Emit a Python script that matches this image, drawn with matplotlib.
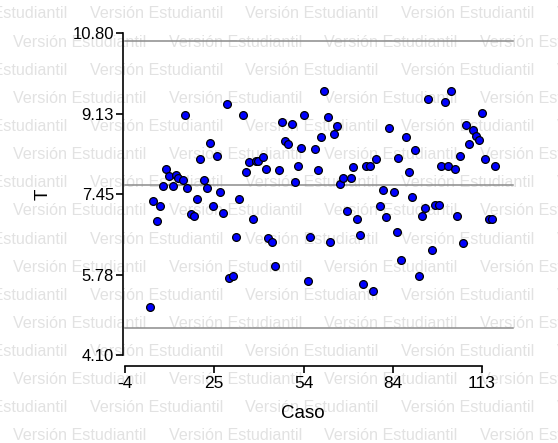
import matplotlib
matplotlib.use("Agg")
import matplotlib.pyplot as plt

# ---- data ----
caso = [4.1, 5.1, 6.4, 7.4, 8.5, 9.5, 10.4, 11.7, 12.6, 13.5,
        14.9, 15.8, 16.4, 17.5, 18.6, 19.7, 20.7, 21.8, 22.9, 23.9,
        24.9, 26.1, 27.0, 28.2, 29.3, 30.2, 31.5, 32.4, 33.4, 34.7,
        35.7, 36.6, 37.9, 38.9, 39.7, 41.1, 42.1, 43.0, 44.3, 45.3,
        46.4, 47.4, 48.4, 49.5, 50.6, 51.6, 52.7, 53.8, 54.8, 56.0,
        56.6, 58.3, 59.2, 60.2, 61.3, 62.4, 63.3, 64.6, 65.6, 66.5,
        67.5, 68.7, 70.0, 70.8, 71.9, 73.1, 74.1, 74.9, 76.3, 77.4,
        78.3, 79.6, 80.5, 81.5, 82.6, 84.0, 85.0, 85.6, 86.6, 88.0,
        89.0, 90.2, 91.1, 92.2, 93.4, 94.4, 95.4, 96.6, 97.6, 98.8,
        99.7, 100.8, 101.9, 102.9, 104.1, 104.9, 105.7, 106.7, 107.7, 108.8,
        110.0, 110.9, 112.1, 113.1, 114.1, 115.2, 116.3, 117.3]
t_vals = [5.10, 7.30, 6.89, 7.20, 7.61, 7.98, 7.83, 7.63, 7.85, 7.79,
          7.75, 9.10, 7.57, 7.03, 7.00, 7.34, 8.18, 7.75, 7.57, 8.52,
          7.20, 8.25, 7.50, 7.06, 9.33, 5.71, 5.75, 6.56, 7.34, 9.10,
          7.91, 8.12, 6.93, 8.15, 8.15, 8.22, 7.98, 6.53, 6.45, 5.95,
          7.95, 8.96, 8.56, 8.49, 8.91, 7.71, 8.04, 8.42, 9.10, 5.65,
          6.56, 8.38, 7.95, 8.65, 9.60, 9.06, 6.45, 8.70, 8.86, 7.67,
          7.78, 7.10, 7.78, 8.01, 6.93, 6.60, 5.58, 8.04, 8.04, 5.44,
          8.18, 7.20, 7.54, 6.97, 8.82, 7.50, 6.66, 8.21, 6.08, 8.65,
          7.91, 7.40, 8.36, 5.74, 7.00, 7.17, 9.43, 6.28, 7.23, 7.23,
          8.04, 9.36, 8.04, 9.60, 7.97, 7.00, 8.25, 6.43, 8.90, 8.49,
          8.79, 8.66, 8.58, 9.13, 8.18, 6.93, 6.93, 8.04]
ref_lines = [10.64, 7.64, 4.66]
ref_x_range = [-4.0, 123.3]
x_ticks = [-4.0, 25.25, 54.5, 83.75, 113.0]
x_tick_labels = ["-4", "25", "54", "84", "113"]
y_ticks = [4.10, 5.775, 7.45, 9.125, 10.80]
y_tick_labels = ["4.10", "5.78", "7.45", "9.13", "10.80"]
watermark = "Versión Estudiantil"

FONT = "Liberation Sans"
W, H = 558, 443
fig = plt.figure(figsize=(W / 100, H / 100), dpi=100)

# pixel geometry
L, R, T, B = 118, 530, 20, 372
sx = 117 / 357.0          # data units per px (x)
sy = 6.7 / 321.7          # data units per px (y)
x_at = lambda px: -4 + (px - 125) * sx
y_at = lambda py: 4.10 + (355 - py) * sy

# watermark
for k in range(16):
    yrow = 14 + 28.13 * k
    start = -66.0 if k % 2 == 0 else 13.0
    for j in range(5):
        xp = start + 155.7 * j
        fig.text(xp / W, 1 - yrow / H, watermark, fontsize=11.6, family=FONT,
                 color="#e2e2e2", ha="left", va="center", zorder=-5)

ax = fig.add_axes([L / W, 1 - B / H, (R - L) / W, (B - T) / H])
ax.patch.set_alpha(0)
ax.set_xlim(x_at(L), x_at(R))
ax.set_ylim(y_at(B), y_at(T))

for v in ref_lines:
    ax.plot(ref_x_range, [v, v], color="#8c8c8c", lw=1.1, zorder=2)

ax.plot(caso, t_vals, linestyle="none", marker="o", markersize=5.6,
        markerfacecolor="#0000ff", markeredgecolor="black",
        markeredgewidth=0.9, zorder=3)

for s in ["top", "right"]:
    ax.spines[s].set_visible(False)
ax.spines["left"].set_position(("data", x_at(123)))
ax.spines["left"].set_bounds(4.10, 10.80)
ax.spines["bottom"].set_position(("data", y_at(366)))
ax.spines["bottom"].set_bounds(-4, 113)
for s in ["left", "bottom"]:
    ax.spines[s].set_linewidth(1.2)

ax.set_xticks(x_ticks)
ax.set_xticklabels(x_tick_labels, family=FONT, fontsize=12.5)
ax.set_yticks(y_ticks)
ax.set_yticklabels(y_tick_labels, family=FONT, fontsize=12)
ax.tick_params(axis="both", direction="out", length=5, width=1.2)
ax.tick_params(axis="y", pad=1.5)
ax.tick_params(axis="x", pad=2)

fig.text(303 / W, 1 - 414 / H, "Caso", family=FONT, fontsize=13.5,
         ha="center", va="center")
fig.text(43 / W, 1 - 194 / H, "T", family=FONT, fontsize=13.5,
         ha="center", va="center", rotation=90)

fig.savefig("out.png", dpi=100)
